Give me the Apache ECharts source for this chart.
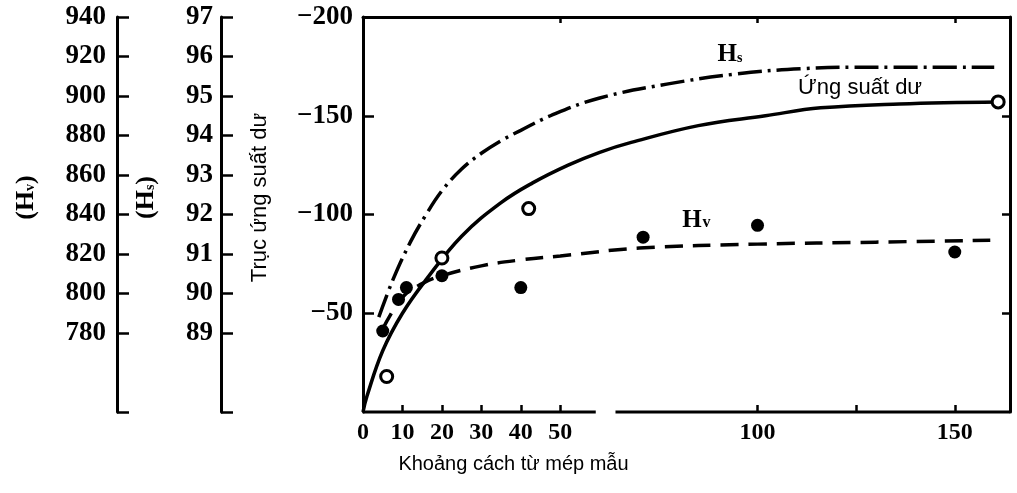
<!DOCTYPE html>
<html>
<head>
<meta charset="utf-8">
<script src="https://cdn.jsdelivr.net/npm/echarts@6/dist/echarts.min.js"></script>
<style>
html,body{margin:0;padding:0;background:#fff;}
#chart{width:1017px;height:493px;}
</style>
</head>
<body>
<div id="chart"></div>
<script>
// ---- tick / label values ----
const xTickLabels = [0, 10, 20, 30, 40, 50, 100, 150];
const xTicks = [10, 20, 30, 40, 50, 100, 125, 150];
const topTicks = [50, 100, 150];
const xAxisGap = [59, 64];
const xMax = 164;
const stressTickLabels = [-200, -150, -100, -50];
const rightTicks = [-150, -100, -50];
const hsTickLabels = [89, 90, 91, 92, 93, 94, 95, 96, 97];
const hsTicks = [87, 89, 90, 91, 92, 93, 94, 95, 96, 97];
const hvTickLabels = [780, 800, 820, 840, 860, 880, 900, 920, 940];
const hvTicks = [740, 780, 800, 820, 840, 860, 880, 900, 920, 940];

// ---- residual stress (Ứng suất dư) ----
const stressCurveX = [0, 1, 5, 10, 16, 25, 35, 43, 52, 60, 68, 85, 102, 116, 136, 161];
const stressCurveY = [0, -8, -31, -50, -67, -89, -106, -116, -125, -131.5, -136.5, -145, -150, -154, -156, -157];
const stressPointX = [6, 20, 42, 161];
const stressPointY = [-18, -78, -103, -157];

// ---- Hv hardness ----
const hvCurveX = [5, 10, 15, 20, 30, 40, 50, 70, 100, 130, 159];
const hvCurveY = [782, 798, 805, 809, 814, 817, 819, 823, 825, 826, 827];
const hvPointX = [5, 9, 11, 20, 40, 71, 100, 150];
const hvPointY = [781, 797, 803, 809, 803, 828.5, 834.5, 821];

// ---- Hs hardness ----
const hsCurveX = [4, 7.6, 12, 16, 20, 25, 30, 35, 40, 47.5, 60, 77, 94, 111, 130, 160];
const hsCurveY = [89.4, 90.35, 91.3, 92.0, 92.6, 93.15, 93.55, 93.87, 94.13, 94.5, 94.95, 95.3, 95.55, 95.69, 95.73, 95.73];

const zip = (xs, ys) => xs.map((x, i) => [x, ys[i]]);

const numFont = {fontFamily: 'Liberation Serif', fontWeight: 'bold', color: '#000'};
const black = '#000';

const chart = echarts.init(document.getElementById('chart'), null, {renderer: 'canvas'});

const subRich = {s: {fontFamily: 'Liberation Serif', fontWeight: 'bold', fontSize: 14, color: '#000', padding: [9, 0, 0, 0]}};

const option = {
  backgroundColor: '#fff',
  animation: false,
  grid: {left: 363, right: 7, top: 17, bottom: 81, containLabel: false, outerBoundsMode: 'none', show: false},
  xAxis: [
    {
      type: 'value', min: 0, max: xMax, position: 'bottom',
      axisLine: {show: false, onZero: false},
      axisTick: {show: true, inside: true, length: 7, customValues: xTicks, lineStyle: {color: black, width: 2.5}},
      axisLabel: {show: true, customValues: xTickLabels, margin: 9, fontSize: 24, ...numFont},
      splitLine: {show: false},
      name: 'Khoảng cách từ mép mẫu', nameLocation: 'middle', nameGap: 42,
      nameTextStyle: {fontFamily: 'Liberation Sans', fontSize: 20, color: '#000', padding: [0, 346, 0, 0]}
    },
    {
      type: 'value', min: 0, max: xMax, position: 'top',
      axisLine: {show: true, onZero: false, lineStyle: {color: black, width: 3}},
      axisTick: {show: true, inside: true, length: 6, customValues: topTicks, lineStyle: {color: black, width: 2.5}},
      axisLabel: {show: false},
      splitLine: {show: false}
    }
  ],
  yAxis: [
    {
      type: 'value', min: -200, max: 0, inverse: true, position: 'left', offset: 0,
      axisLine: {show: true, onZero: false, lineStyle: {color: black, width: 3}},
      axisTick: {show: true, inside: true, length: 11, customValues: stressTickLabels, lineStyle: {color: black, width: 2.5}},
      axisLabel: {show: true, customValues: stressTickLabels, margin: 10, fontSize: 27, ...numFont,
        formatter: v => '\u2212' + Math.abs(v)},
      splitLine: {show: false},
      name: 'Trục ứng suất dư', nameLocation: 'middle', nameGap: 92, nameRotate: 90,
      nameTextStyle: {fontFamily: 'Liberation Sans', fontSize: 22, color: '#000', padding: [0, 0, 0, 34]}
    },
    {
      type: 'value', min: 87, max: 97, position: 'left', offset: 142,
      axisLine: {show: true, onZero: false, lineStyle: {color: black, width: 3}},
      axisTick: {show: true, inside: true, length: 12, customValues: hsTicks, lineStyle: {color: black, width: 2.5}},
      axisLabel: {show: true, customValues: hsTickLabels, margin: 8, fontSize: 27, ...numFont},
      splitLine: {show: false},
      name: '(H{s|s})', nameLocation: 'middle', nameGap: 62, nameRotate: 90,
      nameTextStyle: {fontFamily: 'Liberation Serif', fontWeight: 'bold', fontSize: 26, color: '#000',
        padding: [0, 0, 0, 34], rich: subRich}
    },
    {
      type: 'value', min: 740, max: 940, position: 'left', offset: 246,
      axisLine: {show: true, onZero: false, lineStyle: {color: black, width: 3}},
      axisTick: {show: true, inside: true, length: 12, customValues: hvTicks, lineStyle: {color: black, width: 2.5}},
      axisLabel: {show: true, customValues: hvTickLabels, margin: 11, fontSize: 27, ...numFont},
      splitLine: {show: false},
      name: '(H{s|v})', nameLocation: 'middle', nameGap: 78, nameRotate: 90,
      nameTextStyle: {fontFamily: 'Liberation Serif', fontWeight: 'bold', fontSize: 26, color: '#000',
        padding: [0, 0, 0, 34], rich: subRich}
    },
    {
      type: 'value', min: -200, max: 0, inverse: true, position: 'right', offset: 0,
      axisLine: {show: true, onZero: false, lineStyle: {color: black, width: 3}},
      axisTick: {show: true, inside: true, length: 8, customValues: rightTicks, lineStyle: {color: black, width: 2.5}},
      axisLabel: {show: false},
      splitLine: {show: false}
    }
  ],
  series: [
    {
      name: 'baseline-left', type: 'line', xAxisIndex: 0, yAxisIndex: 0, silent: true,
      data: [[0, 0], [xAxisGap[0], 0]], showSymbol: false, clip: false,
      lineStyle: {color: black, width: 3}, z: 4
    },
    {
      name: 'baseline-right', type: 'line', xAxisIndex: 0, yAxisIndex: 0, silent: true,
      data: [[xAxisGap[1], 0], [xMax, 0]], showSymbol: false, clip: false,
      lineStyle: {color: black, width: 3}, z: 4
    },
    {
      name: 'Ứng suất dư', type: 'line', xAxisIndex: 0, yAxisIndex: 0,
      data: zip(stressCurveX, stressCurveY), smooth: 0.4, showSymbol: false,
      lineStyle: {color: black, width: 3.5}, z: 3,
      markPoint: {
        silent: true, symbol: 'circle', symbolSize: 1, itemStyle: {color: 'rgba(0,0,0,0)'},
        label: {show: true, position: 'inside', color: '#000'},
        data: [
          {coord: [93, -181], label: {formatter: '{h|H}{s|s}',
            rich: {h: {fontFamily: 'Liberation Serif', fontWeight: 'bold', fontSize: 25, color: '#000'},
                   s: {fontFamily: 'Liberation Serif', fontWeight: 'bold', fontSize: 14, color: '#000', padding: [7, 0, 0, 0]}}}},
          {coord: [84.5, -97], label: {formatter: '{h|H}{s|v}',
            rich: {h: {fontFamily: 'Liberation Serif', fontWeight: 'bold', fontSize: 25, color: '#000'},
                   s: {fontFamily: 'Liberation Serif', fontWeight: 'bold', fontSize: 16, color: '#000', padding: [4, 0, 0, 1]}}}},
          {coord: [126, -164], label: {formatter: 'Ứng suất dư', fontFamily: 'Liberation Sans', fontSize: 22, color: '#000'}}
        ]
      }
    },
    {
      name: 'Ứng suất dư (đo)', type: 'scatter', xAxisIndex: 0, yAxisIndex: 0,
      data: zip(stressPointX, stressPointY), symbol: 'circle', symbolSize: 12,
      itemStyle: {color: '#fff', borderColor: black, borderWidth: 3, opacity: 1}, z: 5
    },
    {
      name: 'Hv', type: 'line', xAxisIndex: 0, yAxisIndex: 2,
      data: zip(hvCurveX, hvCurveY), smooth: 0.4, showSymbol: false,
      lineStyle: {color: black, width: 3.5, type: [18, 10]}, z: 3
    },
    {
      name: 'Hv (đo)', type: 'scatter', xAxisIndex: 0, yAxisIndex: 2,
      data: zip(hvPointX, hvPointY), symbol: 'circle', symbolSize: 13,
      itemStyle: {color: black, opacity: 1}, z: 5
    },
    {
      name: 'Hs', type: 'line', xAxisIndex: 0, yAxisIndex: 1,
      data: zip(hsCurveX, hsCurveY), smooth: 0.4, showSymbol: false,
      lineStyle: {color: black, width: 3.5, type: [24, 6, 3, 6]}, z: 3
    }
  ]
};
chart.setOption(option);
</script>
</body>
</html>
